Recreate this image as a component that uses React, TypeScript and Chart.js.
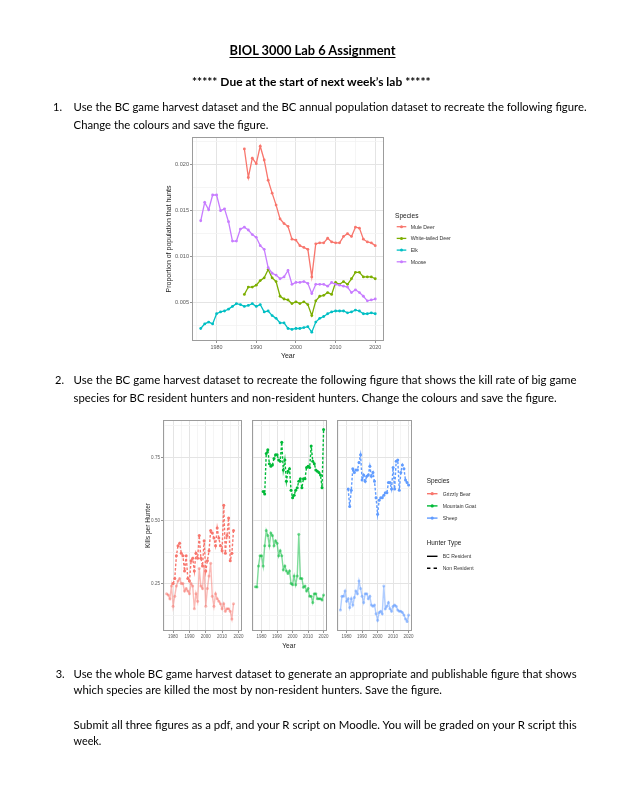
import React, { useEffect, useRef } from "react";
import { Chart, registerables } from "chart.js";

Chart.register(...registerables);

// ---------------- Figure 1 data (proportion of population that hunts) ----------------
const YEARS_1976_2020 = [
  1976, 1977, 1978, 1979, 1980, 1981, 1982, 1983, 1984, 1985,
  1986, 1987, 1988, 1989, 1990, 1991, 1992, 1993, 1994, 1995,
  1996, 1997, 1998, 1999, 2000, 2001, 2002, 2003, 2004, 2005,
  2006, 2007, 2008, 2009, 2010, 2011, 2012, 2013, 2014, 2015,
  2016, 2017, 2018, 2019, 2020,
];
const YEARS_1987_2020 = [
  1987, 1988, 1989, 1990, 1991, 1992, 1993, 1994, 1995, 1996,
  1997, 1998, 1999, 2000, 2001, 2002, 2003, 2004, 2005, 2006,
  2007, 2008, 2009, 2010, 2011, 2012, 2013, 2014, 2015, 2016,
  2017, 2018, 2019, 2020,
];
const MULE_DEER = [
  0.0217, 0.0186, 0.0207, 0.0201, 0.0220, 0.0205, 0.0183, 0.0169, 0.0156, 0.0141,
  0.0136, 0.0133, 0.0119, 0.0118, 0.0112, 0.0110, 0.0108, 0.0078, 0.0114, 0.0115,
  0.0115, 0.0120, 0.0116, 0.0115, 0.0115, 0.0122, 0.0125, 0.0122, 0.0132, 0.0131,
  0.0119, 0.0116, 0.0115, 0.0112,
];
const WHITE_TAILED_DEER = [
  0.0059, 0.0067, 0.0067, 0.0069, 0.0074, 0.0077, 0.0086, 0.0077, 0.0073, 0.0057,
  0.0054, 0.0053, 0.0049, 0.0051, 0.0049, 0.0051, 0.0048, 0.0036, 0.0052, 0.0057,
  0.0058, 0.0061, 0.0059, 0.0072, 0.0070, 0.0073, 0.0070, 0.0076, 0.0083, 0.0083,
  0.0078, 0.0078, 0.0078, 0.0076,
];
const ELK = [
  0.0022, 0.0027, 0.0029, 0.0027, 0.0038, 0.0040, 0.0041, 0.0043, 0.0046, 0.0049,
  0.0048, 0.0046, 0.0047, 0.0049, 0.0046, 0.0048, 0.0040, 0.0041, 0.0036, 0.0033,
  0.0028, 0.0028, 0.0022, 0.0021, 0.0022, 0.0022, 0.0023, 0.0024, 0.0018, 0.0029,
  0.0033, 0.0035, 0.0038, 0.0040, 0.0041, 0.0041, 0.0041, 0.0039, 0.0040, 0.0042,
  0.0041, 0.0038, 0.0038, 0.0039, 0.0038,
];
const MOOSE = [
  0.0139, 0.0159, 0.0151, 0.0167, 0.0167, 0.0150, 0.0152, 0.0138, 0.0117, 0.0117,
  0.0130, 0.0132, 0.0129, 0.0124, 0.0121, 0.0112, 0.0108, 0.0088, 0.0082, 0.0080,
  0.0076, 0.0078, 0.0085, 0.0070, 0.0072, 0.0072, 0.0073, 0.0071, 0.0060, 0.0070,
  0.0070, 0.0070, 0.0068, 0.0072, 0.0070, 0.0069, 0.0068, 0.0067, 0.0061, 0.0064,
  0.0061, 0.0057, 0.0052, 0.0053, 0.0054,
];
const FIG1_SPECIES = ["Mule Deer", "White-tailed Deer", "Elk", "Moose"];
const FIG1_COLORS = ["#F8766D", "#7CAE00", "#00BFC4", "#C77CFF"];
const FIG1_X_TICKS = [1975, 1980, 1985, 1990, 1995, 2000, 2005, 2010, 2015, 2020];
const FIG1_Y_TICKS = [0.0025, 0.005, 0.0075, 0.01, 0.0125, 0.015, 0.0175, 0.02, 0.0225];

// ---------------- Figure 2 data (kills per hunter) ----------------
const YEARS_1976_2017 = [
  1976, 1977, 1978, 1979, 1980, 1981, 1982, 1983, 1984, 1985,
  1986, 1987, 1988, 1989, 1990, 1991, 1992, 1993, 1994, 1995,
  1996, 1997, 1998, 1999, 2000, 2001, 2002, 2003, 2004, 2005,
  2006, 2007, 2008, 2009, 2010, 2011, 2012, 2013, 2014, 2015,
  2016, 2017,
];
const YEARS_1980_2017 = [
  1980, 1981, 1982, 1983, 1984, 1985, 1986, 1987, 1988, 1989,
  1990, 1991, 1992, 1993, 1994, 1995, 1996, 1997, 1998, 1999,
  2000, 2001, 2002, 2003, 2004, 2005, 2006, 2007, 2008, 2009,
  2010, 2011, 2012, 2013, 2014, 2015, 2016, 2017,
];
const YEARS_1981_2020 = [
  1981, 1982, 1983, 1984, 1985, 1986, 1987, 1988, 1989, 1990,
  1991, 1992, 1993, 1994, 1995, 1996, 1997, 1998, 1999, 2000,
  2001, 2002, 2003, 2004, 2005, 2006, 2007, 2008, 2009, 2010,
  2011, 2012, 2013, 2014, 2015, 2016, 2017, 2018, 2019, 2020,
];
const GRIZZLY_RESIDENT = [
  0.21, 0.205, 0.19, 0.24, 0.16, 0.20, 0.24, 0.26, 0.27, 0.25,
  0.25, 0.22, 0.23, 0.22, 0.21, 0.25, 0.24, 0.15, 0.21, 0.18,
  0.31, 0.24, 0.23, 0.32, 0.16, 0.23, 0.28, 0.33, 0.20, 0.16,
  0.21, 0.19, 0.18, 0.17, 0.15, 0.17, 0.14, 0.15, 0.15, 0.14,
  0.11, 0.17,
];
const GRIZZLY_NON_RESIDENT = [
  0.25, 0.27, 0.36, 0.40, 0.41, 0.37, 0.36, 0.30, 0.36, 0.27,
  0.26, 0.34, 0.35, 0.30, 0.37, 0.35, 0.44, 0.35, 0.32, 0.42,
  0.30, 0.34, 0.38, 0.46, 0.45, 0.43, 0.40, 0.47, 0.43, 0.40,
  0.38, 0.56, 0.37, 0.44, 0.51, 0.34, 0.37, 0.46,
];
const GOAT_RESIDENT = [
  0.237, 0.236, 0.32, 0.36, 0.36, 0.32, 0.40, 0.46, 0.44, 0.40,
  0.45, 0.44, 0.40, 0.42, 0.41, 0.36, 0.38, 0.36, 0.305, 0.32,
  0.30, 0.29, 0.30, 0.25, 0.245, 0.28, 0.245, 0.28, 0.445, 0.27,
  0.27, 0.235, 0.24, 0.22, 0.23, 0.20, 0.20, 0.175, 0.21, 0.21,
  0.19, 0.19, 0.19, 0.185, 0.205,
];
const GOAT_NON_RESIDENT = [
  0.615, 0.605, 0.765, 0.78, 0.725, 0.715, 0.72, 0.745, 0.76, 0.76,
  0.74, 0.735, 0.81, 0.70, 0.74, 0.655, 0.695, 0.705, 0.62, 0.59,
  0.60, 0.62, 0.63, 0.655, 0.665, 0.63, 0.665, 0.665, 0.71, 0.715,
  0.71, 0.795, 0.735, 0.725, 0.70, 0.695, 0.69, 0.68, 0.63, 0.86,
];
const SHEEP_RESIDENT = [
  0.145, 0.20, 0.20, 0.22, 0.18, 0.19, 0.155, 0.19, 0.165, 0.195,
  0.22, 0.21, 0.26, 0.23, 0.20, 0.175, 0.21, 0.21, 0.19, 0.20,
  0.165, 0.16, 0.165, 0.13, 0.105, 0.135, 0.14, 0.13, 0.24, 0.15,
  0.16, 0.175, 0.15, 0.14, 0.16, 0.165, 0.16, 0.145, 0.14, 0.14,
  0.135, 0.125, 0.11, 0.10, 0.125,
];
const SHEEP_NON_RESIDENT = [
  0.625, 0.555, 0.62, 0.705, 0.69, 0.70, 0.70, 0.73, 0.76, 0.66,
  0.68, 0.655, 0.675, 0.68, 0.715, 0.675, 0.69, 0.655, 0.59, 0.525,
  0.58, 0.59, 0.59, 0.60, 0.61, 0.61, 0.65, 0.65, 0.625, 0.71,
  0.625, 0.735, 0.74, 0.62, 0.69, 0.72, 0.705, 0.66, 0.65, 0.64,
];
const FIG2_SPECIES = ["Grizzly Bear", "Mountain Goat", "Sheep"];
const FIG2_COLORS = ["#F8766D", "#00BA38", "#619CFF"];
const HUNTER_TYPES = ["BC Resident", "Non Resident"];
const FIG2_X_TICKS = [1975, 1980, 1985, 1990, 1995, 2000, 2005, 2010, 2015, 2020];
const FIG2_Y_TICKS = [0.125, 0.25, 0.375, 0.5, 0.625, 0.75, 0.875];

// ---------------- helpers ----------------
const AXIS_FONT = "'Liberation Sans', Arial, sans-serif";
const DOC_FONT = "Lato, 'Open Sans', sans-serif";
const GRID_MAJOR = "#e4e4e4";
const GRID_MINOR = "#f2f2f2";
const BORDER = "#9c9c9c";

const isMult = (v: number, step: number) => Math.abs(v / step - Math.round(v / step)) < 1e-6;
const pts = (xs: number[], ys: number[]) => ys.map((y, i) => ({ x: xs[i], y }));
const alpha = (hex: string, a: number) => {
  const n = parseInt(hex.slice(1), 16);
  return `rgba(${(n >> 16) & 255},${(n >> 8) & 255},${n & 255},${a})`;
};

const panelBorder = {
  id: "panelBorder",
  afterDraw(chart: any) {
    const { ctx, chartArea: a } = chart;
    ctx.save();
    ctx.strokeStyle = BORDER;
    ctx.lineWidth = 1;
    ctx.strokeRect(a.left + 0.5, a.top + 0.5, a.right - a.left - 1, a.bottom - a.top - 1);
    ctx.restore();
  },
};

function xScale(ticks: number[], min: number, max: number, height: number, fontSize: number) {
  return {
    type: "linear",
    min,
    max,
    afterBuildTicks: (s: any) => {
      s.ticks = ticks.map((v) => ({ value: v }));
    },
    afterFit: (s: any) => {
      s.height = height;
      s.paddingLeft = 0;
      s.paddingRight = 0;
    },
    border: { display: false },
    grid: {
      color: (c: any) => (c.tick && isMult(c.tick.value, 10) ? GRID_MAJOR : GRID_MINOR),
      lineWidth: (c: any) => (c.tick && isMult(c.tick.value, 10) ? 1 : 0.8),
      tickColor: (c: any) => (c.tick && isMult(c.tick.value, 10) ? "#777" : "rgba(0,0,0,0)"),
      tickLength: 2,
      tickWidth: 0.8,
    },
    ticks: {
      autoSkip: false,
      maxRotation: 0,
      padding: 1,
      color: "#5a5a5a",
      font: { family: AXIS_FONT, size: fontSize },
      callback: (v: number) => (isMult(v, 10) ? String(v) : ""),
    },
  };
}

function yScale(
  ticks: number[],
  min: number,
  max: number,
  width: number,
  major: number,
  digits: number,
  fontSize: number,
  showLabels: boolean
) {
  return {
    type: "linear",
    min,
    max,
    afterBuildTicks: (s: any) => {
      s.ticks = ticks.map((v) => ({ value: v }));
    },
    afterFit: (s: any) => {
      s.width = width;
      s.paddingTop = 0;
      s.paddingBottom = 0;
    },
    border: { display: false },
    grid: {
      color: (c: any) => (c.tick && isMult(c.tick.value, major) ? GRID_MAJOR : GRID_MINOR),
      lineWidth: (c: any) => (c.tick && isMult(c.tick.value, major) ? 1 : 0.8),
      tickColor: (c: any) => (c.tick && isMult(c.tick.value, major) ? "#777" : "rgba(0,0,0,0)"),
      tickLength: 2,
      tickWidth: 0.8,
      drawTicks: showLabels,
    },
    ticks: {
      display: showLabels,
      autoSkip: false,
      padding: 1,
      color: "#5a5a5a",
      font: { family: AXIS_FONT, size: fontSize },
      callback: (v: number) => (isMult(v, major) ? v.toFixed(digits) : ""),
    },
  };
}

function baseOptions(padTop: number, padRight: number, scales: any) {
  return {
    responsive: false,
    maintainAspectRatio: false,
    animation: false,
    devicePixelRatio: 1,
    events: [],
    layout: { padding: { top: padTop, right: padRight, left: 0, bottom: 0 } },
    plugins: { legend: { display: false }, tooltip: { enabled: false } },
    scales,
  };
}

function ChartCanvas(props: { left: number; top: number; width: number; height: number; config: () => any }) {
  const ref = useRef<HTMLCanvasElement>(null);
  useEffect(() => {
    const chart = new Chart(ref.current as HTMLCanvasElement, props.config());
    return () => chart.destroy();
  }, []);
  return (
    <canvas
      ref={ref}
      width={props.width}
      height={props.height}
      style={{ position: "absolute", left: props.left, top: props.top, width: props.width, height: props.height }}
    />
  );
}

// ---------------- Figure 1 ----------------
const fig1Config = () => {
  const series = [
    { xs: YEARS_1987_2020, ys: MULE_DEER },
    { xs: YEARS_1987_2020, ys: WHITE_TAILED_DEER },
    { xs: YEARS_1976_2020, ys: ELK },
    { xs: YEARS_1976_2020, ys: MOOSE },
  ];
  const datasets = series
    .map((s, i) => ({
      label: FIG1_SPECIES[i],
      data: pts(s.xs, s.ys),
      borderColor: FIG1_COLORS[i],
      backgroundColor: FIG1_COLORS[i],
      pointBackgroundColor: FIG1_COLORS[i],
      pointBorderWidth: 0,
      pointRadius: 1.4,
      borderWidth: 1.3,
      tension: 0,
    }))
    .reverse();
  return {
    type: "line",
    data: { datasets },
    options: baseOptions(7, 6, {
      x: xScale(FIG1_X_TICKS, 1973.8, 2022.2, 14, 5.4),
      y: yScale(FIG1_Y_TICKS, 0.00084, 0.023, 32, 0.005, 3, 5.6, true),
    }),
    plugins: [panelBorder],
  };
};

// ---------------- Figure 2 ----------------
const FIG2_FACETS = [
  { res: { xs: YEARS_1976_2017, ys: GRIZZLY_RESIDENT }, non: { xs: YEARS_1980_2017, ys: GRIZZLY_NON_RESIDENT } },
  { res: { xs: YEARS_1976_2020, ys: GOAT_RESIDENT }, non: { xs: YEARS_1981_2020, ys: GOAT_NON_RESIDENT } },
  { res: { xs: YEARS_1976_2020, ys: SHEEP_RESIDENT }, non: { xs: YEARS_1981_2020, ys: SHEEP_NON_RESIDENT } },
];

const fig2Config = (i: number) => () => {
  const f = FIG2_FACETS[i];
  const col = FIG2_COLORS[i];
  const first = i === 0;
  return {
    type: "line",
    data: {
      datasets: [
        {
          label: FIG2_SPECIES[i] + " " + HUNTER_TYPES[1],
          data: pts(f.non.xs, f.non.ys),
          borderColor: col,
          pointBackgroundColor: col,
          pointBorderWidth: 0,
          pointRadius: 1.5,
          borderWidth: 1.4,
          borderDash: [2.6, 1.8],
          tension: 0,
        },
        {
          label: FIG2_SPECIES[i] + " " + HUNTER_TYPES[0],
          data: pts(f.res.xs, f.res.ys),
          borderColor: alpha(col, 0.5),
          pointBackgroundColor: alpha(col, 0.5),
          pointBorderWidth: 0,
          pointRadius: 1.5,
          borderWidth: 1.4,
          tension: 0,
        },
      ],
    },
    options: baseOptions(10, 0, {
      x: xScale(FIG2_X_TICKS, 1973.8, 2022.2, 19, 4.5),
      y: yScale(FIG2_Y_TICKS, 0.062, 0.898, first ? 23 : 0, 0.25, 2, 4.6, first),
    }),
    plugins: [panelBorder],
  };
};

// ---------------- Document text ----------------
function T(props: {
  x: number;
  y: number;
  w?: number;
  size: number;
  bold?: boolean;
  children: React.ReactNode;
  anchor?: string;
  font?: string;
  color?: string;
  transform?: string;
}) {
  const extra: any = props.w ? { textLength: props.w, lengthAdjust: "spacingAndGlyphs" } : {};
  return (
    <text
      x={props.x}
      y={props.y}
      fontSize={props.size}
      fontWeight={props.bold ? 700 : 400}
      fontFamily={props.font || DOC_FONT}
      fill={props.color || "#000"}
      textAnchor={props.anchor || "start"}
      transform={props.transform}
      {...extra}
    >
      {props.children}
    </text>
  );
}

function Overlay() {
  const A = AXIS_FONT;
  return (
    <svg
      width={623}
      height={806}
      style={{ position: "absolute", left: 0, top: 0, pointerEvents: "none" }}
    >
      {/* heading */}
      <T x={229.5} y={54.5} w={166} size={13} bold>BIOL 3000 Lab 6 Assignment</T>
      <line x1={229.5} x2={395.5} y1={57.5} y2={57.5} stroke="#000" strokeWidth={1} />
      <T x={192} y={86} w={238.6} size={10.5} bold>***** Due at the start of next week’s lab *****</T>

      {/* item 1 */}
      <T x={53} y={111} size={11}>1.</T>
      <T x={73.6} y={111} w={513} size={11}>
        Use the BC game harvest dataset and the BC annual population dataset to recreate the following figure.
      </T>
      <T x={73.6} y={128.5} w={194.8} size={11}>Change the colours and save the figure.</T>

      {/* item 2 */}
      <T x={55} y={383.5} size={11}>2.</T>
      <T x={73.6} y={383.5} w={503} size={11}>
        Use the BC game harvest dataset to recreate the following figure that shows the kill rate of big game
      </T>
      <T x={73.6} y={401.5} w={483} size={11}>
        species for BC resident hunters and non-resident hunters. Change the colours and save the figure.
      </T>

      {/* item 3 */}
      <T x={55.7} y={678} size={11}>3.</T>
      <T x={73.6} y={678} w={503} size={11}>
        Use the whole BC game harvest dataset to generate an appropriate and publishable figure that shows
      </T>
      <T x={73.6} y={694} w={368.4} size={11}>
        which species are killed the most by non-resident hunters.  Save the figure.
      </T>
      <T x={73.6} y={729} w={503} size={11}>
        Submit all three figures as a pdf, and your R script on Moodle.  You will be graded on your R script this
      </T>
      <T x={73.6} y={744.5} w={27.8} size={11}>week.</T>

      {/* figure 1 axis titles */}
      <T x={288} y={357.5} size={7} font={A} anchor="middle" color="#222">Year</T>
      <T x={0} y={0} size={7} font={A} anchor="middle" color="#222" transform="translate(170.5,239) rotate(-90)">
        Proportion of population that hunts
      </T>

      {/* figure 1 legend */}
      <T x={395} y={217.6} size={6.6} font={A} color="#222">Species</T>
      {FIG1_SPECIES.map((s, i) => {
        const cy = 226.7 + i * 11.7;
        return (
          <g key={s}>
            <line x1={396.7} x2={406.3} y1={cy} y2={cy} stroke={FIG1_COLORS[i]} strokeWidth={1.3} />
            <circle cx={401.5} cy={cy} r={1.5} fill={FIG1_COLORS[i]} />
            <T x={410.7} y={cy + 1.9} size={5.2} font={A} color="#333">{s}</T>
          </g>
        );
      })}

      {/* figure 2 axis titles */}
      <T x={289} y={648.2} size={6.6} font={A} anchor="middle" color="#222">Year</T>
      <T x={0} y={0} size={6.6} font={A} anchor="middle" color="#222" transform="translate(149.5,525.5) rotate(-90)">
        Kills per Hunter
      </T>

      {/* figure 2 legend */}
      <T x={426.7} y={483} size={6.4} font={A} color="#222">Species</T>
      {FIG2_SPECIES.map((s, i) => {
        const cy = 493.7 + i * 12.2;
        return (
          <g key={s}>
            <line x1={427} x2={437.5} y1={cy} y2={cy} stroke={FIG2_COLORS[i]} strokeWidth={1.4} />
            <circle cx={432.2} cy={cy} r={1.6} fill={FIG2_COLORS[i]} />
            <T x={442.7} y={cy + 1.8} size={5.1} font={A} color="#333">{s}</T>
          </g>
        );
      })}
      <T x={426.7} y={544.6} size={6.4} font={A} color="#222">Hunter Type</T>
      {HUNTER_TYPES.map((h, i) => {
        const cy = 556.3 + i * 12;
        return (
          <g key={h}>
            <line
              x1={427}
              x2={437.5}
              y1={cy}
              y2={cy}
              stroke="#000"
              strokeWidth={1.4}
              strokeDasharray={i === 1 ? "3.4 3.2" : undefined}
            />
            <T x={442.7} y={cy + 1.8} size={5.1} font={A} color="#333">{h}</T>
          </g>
        );
      })}
    </svg>
  );
}

export default function App() {
  return (
    <div
      style={{
        position: "absolute",
        left: 0,
        top: 0,
        width: 623,
        height: 806,
        background: "#fff",
        overflow: "hidden",
      }}
    >
      <ChartCanvas left={160} top={130} width={230} height={225} config={fig1Config} />
      <ChartCanvas left={140} top={410} width={106} height={240} config={fig2Config(0)} />
      <ChartCanvas left={248} top={410} width={83} height={240} config={fig2Config(1)} />
      <ChartCanvas left={333} top={410} width={83} height={240} config={fig2Config(2)} />
      <Overlay />
    </div>
  );
}
